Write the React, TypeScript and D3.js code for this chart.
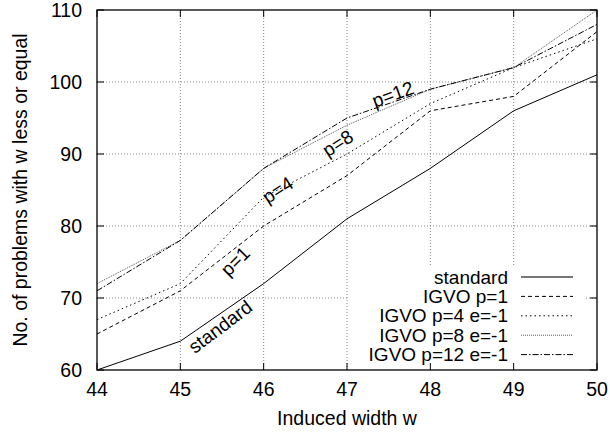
import * as d3 from 'd3';

const widths = [44, 45, 46, 47, 48, 49, 50];
const yTicks = [60, 70, 80, 90, 100, 110];

const standard = [60, 64, 72, 81, 88, 96, 101];
const igvoP1 = [65, 71, 80, 87, 96, 98, 107];
const igvoP4 = [67, 72, 84, 90, 97, 102, 106];
const igvoP8 = [72, 78, 88, 94, 99, 102, 110];
const igvoP12 = [71, 78, 88, 95, 99, 102, 108];

const seriesNames = ['standard', 'IGVO p=1', 'IGVO p=4 e=-1', 'IGVO p=8 e=-1', 'IGVO p=12 e=-1'];
const seriesValues = [standard, igvoP1, igvoP4, igvoP8, igvoP12];

// in-plot annotations: text, x (width), y (count), rotation
const notes: [string, number, number, number][] = [
  ['standard', 45.48, 66, -37],
  ['p=1', 45.66, 75.1, -45],
  ['p=4', 46.17, 85, -33],
  ['p=8', 46.89, 91.5, -33],
  ['p=12', 47.55, 98.3, -20],
];

const dashes = ['none', '4,3', '1.5,3', '1,1', '6,2,1.5,2'];
const strokes = ['#000', '#000', '#000', '#555', '#000'];

const W = 610;
const H = 435;
const m = { top: 10, right: 13, bottom: 65, left: 97 };
const font = "'Liberation Sans', Arial, sans-serif";
const fs = 19.5;

export default function App() {
  const x = d3.scaleLinear().domain([44, 50]).range([m.left, W - m.right]);
  const y = d3.scaleLinear().domain([60, 110]).range([H - m.bottom, m.top]);
  const line = d3
    .line<number>()
    .x((_, i) => x(widths[i]))
    .y((d) => y(d));

  const x0 = x(44), x1 = x(50), y0 = y(60), y1 = y(110);
  const legendRight = 508;
  const legendTop = 277;
  const rowH = 19.4;

  return (
    <div style={{ position: 'fixed', left: 0, top: 0 }}>
      <svg width={W} height={H} style={{ display: 'block', background: '#fff' }} fontFamily={font}>
        {/* grid */}
        <g stroke="#888" strokeDasharray="1,2" strokeWidth={1}>
          {widths.slice(1, -1).map((w) => (
            <line key={'gx' + w} x1={x(w)} x2={x(w)} y1={y0} y2={y1} />
          ))}
          {yTicks.slice(1, -1).map((t) => (
            <line key={'gy' + t} x1={x0} x2={x1} y1={y(t)} y2={y(t)} />
          ))}
        </g>

        {/* legend background hides grid */}
        <rect x={349} y={267} width={236} height={y0 - 267 - 1} fill="#fff" />

        {/* ticks */}
        <g stroke="#000" strokeWidth={1}>
          {widths.map((w) => (
            <g key={'tx' + w}>
              <line x1={x(w)} x2={x(w)} y1={y0} y2={y0 - 7} />
              <line x1={x(w)} x2={x(w)} y1={y1} y2={y1 + 7} />
            </g>
          ))}
          {yTicks.map((t) => (
            <g key={'ty' + t}>
              <line x1={x0} x2={x0 + 7} y1={y(t)} y2={y(t)} />
              <line x1={x1} x2={x1 - 7} y1={y(t)} y2={y(t)} />
            </g>
          ))}
        </g>

        {/* series */}
        {seriesValues.map((vals, i) => (
          <path
            key={seriesNames[i]}
            d={line(vals) ?? ''}
            fill="none"
            stroke={strokes[i]}
            strokeWidth={1}
            strokeDasharray={dashes[i]}
          />
        ))}

        {/* annotations */}
        {notes.map(([t, nx, ny, r]) => (
          <text
            key={t}
            transform={`translate(${x(nx)},${y(ny)}) rotate(${r})`}
            textAnchor="middle"
            dominantBaseline="central"
            fontSize={19}
            fill="#000"
          >
            {t}
          </text>
        ))}

        {/* frame */}
        <rect x={x0} y={y1} width={x1 - x0} height={y0 - y1} fill="none" stroke="#000" strokeWidth={1.3} />

        {/* tick labels */}
        {widths.map((w) => (
          <text key={'lx' + w} x={x(w)} y={396} textAnchor="middle" fontSize={fs}>
            {w}
          </text>
        ))}
        {yTicks.map((t) => (
          <text key={'ly' + t} x={82} y={y(t) + 7} textAnchor="end" fontSize={fs}>
            {t}
          </text>
        ))}

        {/* axis titles */}
        <text x={(x0 + x1) / 2} y={425} textAnchor="middle" fontSize={fs}>
          Induced width w
        </text>
        <text
          transform={`translate(27,${(y0 + y1) / 2}) rotate(-90)`}
          textAnchor="middle"
          fontSize={fs}
        >
          No. of problems with w less or equal
        </text>

        {/* legend */}
        {seriesNames.map((n, i) => (
          <g key={'lg' + n}>
            <text x={legendRight} y={legendTop + i * rowH + 6.5} textAnchor="end" fontSize={19}>
              {n}
            </text>
            <line
              x1={521}
              x2={573}
              y1={legendTop + i * rowH}
              y2={legendTop + i * rowH}
              stroke={i === 0 ? '#777' : strokes[i]}
              strokeWidth={i === 0 ? 2 : 1}
              strokeDasharray={dashes[i]}
            />
          </g>
        ))}
      </svg>
    </div>
  );
}
